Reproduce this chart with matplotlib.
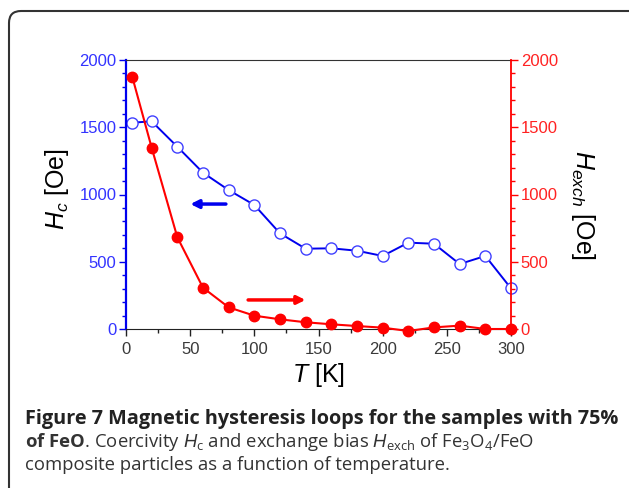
import matplotlib
matplotlib.use("Agg")
import matplotlib.pyplot as plt
from matplotlib.patches import FancyBboxPatch
from matplotlib.transforms import IdentityTransform
from matplotlib.ticker import MultipleLocator

plt.rcParams['font.family'] = 'Liberation Sans'
plt.rcParams['mathtext.fontset'] = 'custom'
plt.rcParams['mathtext.rm'] = 'Open Sans'
plt.rcParams['mathtext.it'] = 'Liberation Sans:italic'
plt.rcParams['mathtext.bf'] = 'Open Sans:bold'

# temperature [K]
temp = [5, 20, 40, 60, 80, 100, 120, 140, 160, 180, 200, 220, 240, 260, 280, 300]
# coercivity Hc [Oe]
hc = [1534, 1544, 1355, 1162, 1033, 922, 711, 597, 600, 582, 543, 642, 634, 483, 543, 302]
# exchange bias Hexch [Oe]
hexch = [1871, 1348, 682, 307, 161, 99, 72, 50, 35, 22, 10, -15, 12, 25, 0, 0]

blue = '#0000ee'
red = '#ff0000'

fig = plt.figure(figsize=(6.29, 4.88), dpi=100)

# rounded frame around figure + caption
frame = FancyBboxPatch((9, -30), 650, 488 - 11 + 30,
                       boxstyle="round,pad=0,rounding_size=12",
                       transform=IdentityTransform(), fc='none', ec='#333333', lw=1.5,
                       zorder=-1)
fig.patches.append(frame)

ax = fig.add_axes([126 / 629, 1 - 329 / 488, (511 - 126) / 629, (329 - 60) / 488])
ax2 = ax.twinx()

ax.plot(temp, hc, '-o', color=blue, lw=1.4, ms=8, mfc='white', mec='#4040ff', mew=1.0,
        clip_on=False)
ax2.plot(temp, hexch, '-o', color=red, lw=1.5, ms=7.5, clip_on=False)

ax.set_xlim(0, 300)
ax.set_ylim(0, 2000)
ax2.set_ylim(0, 2000)

ax.xaxis.set_major_locator(MultipleLocator(50))
ax.xaxis.set_minor_locator(MultipleLocator(25))
for a in (ax, ax2):
    a.yaxis.set_major_locator(MultipleLocator(500))
    a.yaxis.set_minor_locator(MultipleLocator(100))

ax.tick_params(axis='x', which='both', direction='out', colors='#222222', labelcolor='#3a3a3a',
               labelsize=12, top=False, width=1)
ax.tick_params(axis='x', which='major', length=5, pad=4)
ax.tick_params(axis='x', which='minor', length=3)
ax.tick_params(axis='y', which='both', direction='out', colors=blue, labelcolor='#3333ff',
               labelsize=12, width=1)
ax.tick_params(axis='y', which='major', length=5, pad=2)
ax.tick_params(axis='y', which='minor', length=3)
ax2.tick_params(axis='y', which='both', direction='out', colors=red, labelcolor='#ff2222',
                labelsize=12, width=1)
ax2.tick_params(axis='y', which='major', length=5, pad=2)
ax2.tick_params(axis='y', which='minor', length=3)

ax.spines['left'].set_color(blue)
ax.spines['left'].set_linewidth(1.6)
ax.spines['top'].set_color('#333333')
ax.spines['bottom'].set_color('#222222')
ax.spines['right'].set_visible(False)
ax2.spines['left'].set_visible(False)
ax2.spines['top'].set_visible(False)
ax2.spines['bottom'].set_visible(False)
ax2.spines['right'].set_color(red)
ax2.spines['right'].set_linewidth(1.3)

ax.set_xlabel('$T$ [K]', fontsize=18, labelpad=3)
ax.set_ylabel('$H_c$ [Oe]', fontsize=18)
ax.yaxis.set_label_coords(-0.143, 0.52)
ax2.set_ylabel('$H_{exch}$ [Oe]', fontsize=18, rotation=-90, va='bottom')
ax2.yaxis.set_label_coords(1.151, 0.46)

# arrows pointing to the relevant axis
ax.annotate('', xy=(48, 929), xytext=(80, 929),
            arrowprops=dict(arrowstyle='-|>', color=blue, lw=2.5, mutation_scale=12))
ax.annotate('', xy=(142, 216), xytext=(93, 216),
            arrowprops=dict(arrowstyle='-|>', color=red, lw=2.5, mutation_scale=12))

# caption
cap_font = 'Open Sans'
fig.text(25 / 629, 1 - 424 / 488,
         'Figure 7 Magnetic hysteresis loops for the samples with 75%',
         fontsize=14.3, fontweight='bold', family=cap_font, color='#222222')
fig.text(25 / 629, 1 - 447 / 488,
         r'$\mathbf{of\ FeO}$. Coercivity $H_\mathrm{c}$ and exchange bias '
         r'$H_\mathrm{exch}$ of Fe$_3$O$_4$/FeO',
         fontsize=13.3, family=cap_font, color='#333333')
fig.text(25 / 629, 1 - 470 / 488,
         'composite particles as a function of temperature.',
         fontsize=13.3, family=cap_font, color='#333333')

fig.savefig('out.png', dpi=100)
